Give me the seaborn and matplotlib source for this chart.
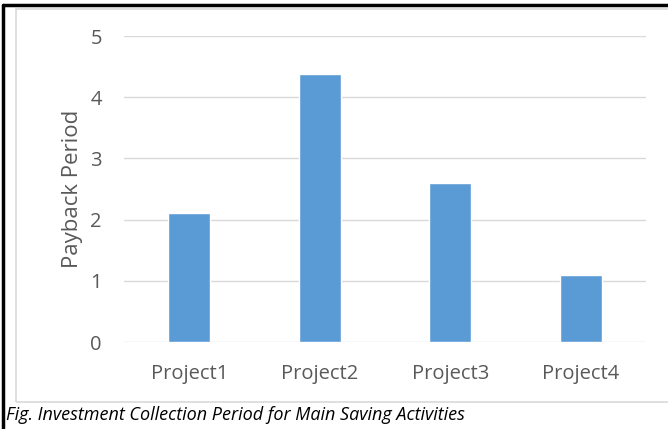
import matplotlib
matplotlib.use("Agg")
import matplotlib.pyplot as plt
import seaborn as sns
import pandas as pd
from matplotlib.lines import Line2D
from matplotlib.patches import Rectangle

# Datos del gráfico
projects = ["Project1", "Project2", "Project3", "Project4"]
payback = [2.1, 4.38, 2.6, 1.1]
yticks = [0, 1, 2, 3, 4, 5]

df = pd.DataFrame({"project": projects, "payback": payback})

sns.set_theme(style="white")
plt.rcParams["font.family"] = ["Open Sans", "DejaVu Sans"]

fig = plt.figure(figsize=(6.68, 4.29), dpi=100)
ax = fig.add_axes([124 / 668, 1 - 342 / 429, 522 / 668, 306 / 429])

sns.barplot(data=df, x="project", y="payback", color="#5B9BD5", width=0.32,
            saturation=1, ax=ax, zorder=3)

ax.set_ylim(0, 5)
ax.set_yticks(yticks)
ax.set_xlim(-0.5, 3.5)
ax.yaxis.grid(True, color="#D9D9D9", linewidth=1, zorder=0)
for s in ax.spines.values():
    s.set_visible(False)
ax.tick_params(axis="both", length=0, colors="#595959", labelsize=14.5)
ax.tick_params(axis="y", pad=16)
ax.tick_params(axis="x", pad=16)
ax.set_xlabel("")
ax.set_ylabel("Payback Period", fontsize=16, color="#595959", labelpad=5)

# Marco del gráfico
fig.add_artist(Rectangle((16 / 668, 1 - 402 / 429), 1, (402 - 9) / 429,
                         transform=fig.transFigure, fill=False,
                         edgecolor="#D9D9D9", linewidth=1.2))
fig.add_artist(Line2D([3 / 668, 1], [1 - 5 / 429, 1 - 5 / 429],
                      transform=fig.transFigure, color="black", linewidth=2.5))
fig.add_artist(Line2D([3 / 668, 3 / 668], [0, 1 - 5 / 429],
                      transform=fig.transFigure, color="black", linewidth=2.5))

fig.text(6 / 668, 1 - 415 / 429, "Fig. Investment Collection Period for Main Saving Activities",
         fontsize=13, fontstyle="italic", color="black", va="center", ha="left")

fig.savefig("out.png", dpi=100)
